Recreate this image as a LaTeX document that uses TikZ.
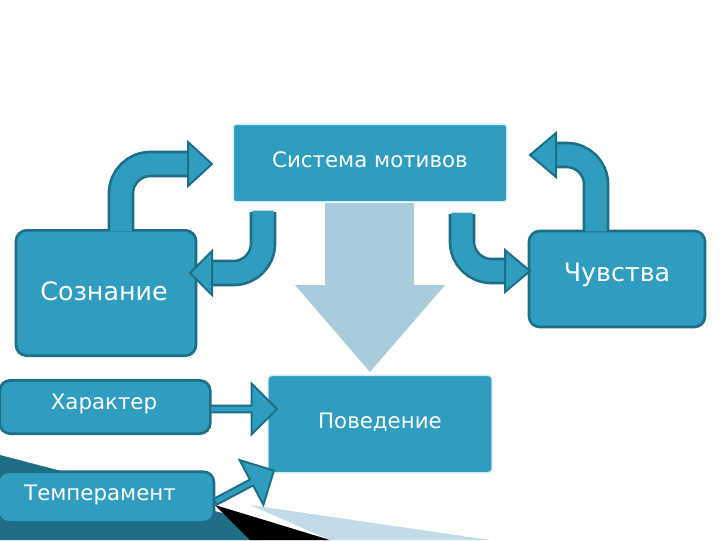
\documentclass[tikz,border=0pt]{standalone}
\usepackage{fontspec}
\setmainfont{DejaVu Sans}
\usetikzlibrary{shapes.arrows}
\definecolor{tl}{HTML}{2E9DBF}
\definecolor{dk}{HTML}{1D6F88}
\definecolor{lb}{HTML}{A8CCDC}
\begin{document}
\begin{tikzpicture}[x=0.75pt,y=-0.75pt,
  box/.style={draw=dk,line width=2pt,fill=tl,rounded corners=8pt,text=white,inner sep=0},
  pipe/.style={draw=dk,line width=20pt,rounded corners=22pt},
  pipein/.style={draw=tl,line width=16pt,rounded corners=22pt},
  head/.style={draw=dk,line width=1.5pt,fill=tl,line join=miter},
  blk/.style={shape=single arrow,draw=dk,line width=1.5pt,fill=tl,minimum height=50pt,single arrow head extend=5pt,inner sep=0,minimum width=38pt}]
\useasboundingbox (0,0) rectangle (720,540);
% decoration
\fill[tl!70!black] (0,455) -- (230,515) -- (260,540) -- (0,540) -- cycle;
\fill[black] (215,505) -- (330,540) -- (250,540) -- cycle;
\fill[lb!70] (250,505) -- (490,540) -- (330,540) -- cycle;
% boxes
\node[box,draw=white!80!tl,line width=1pt,rounded corners=2pt,minimum width=205pt,minimum height=58pt] (sys) at (370,163) {};
\node[text=white,font=\fontsize{16}{16}\selectfont] at (370,160) {Система мотивов};
\node[box,minimum width=135pt,minimum height=94pt] (soz) at (106,293) {};
\node[text=white,font=\fontsize{19}{19}\selectfont] at (104,291) {Сознание};
\node[box,minimum width=132pt,minimum height=72pt] (chu) at (617,279) {};
\node[text=white,font=\fontsize{19}{19}\selectfont] at (617,275) {Чувства};
\node[box,minimum width=158pt,minimum height=40pt] (har) at (105,407) {};
\node[text=white,font=\fontsize{16}{16}\selectfont] at (104,404) {Характер};
\node[box,minimum width=162pt,minimum height=38pt] (tem) at (106,497) {};
\node[text=white,font=\fontsize{16}{16}\selectfont] at (100,495) {Темперамент};
\node[box,draw=white!80!tl,line width=1pt,rounded corners=3pt,minimum width=168pt,minimum height=73pt] (pov) at (380,424) {};
\node[text=white,font=\fontsize{16}{16}\selectfont] at (380,422) {Поведение};
% big down arrow
\fill[lb] (325,203) -- (414,203) -- (414,285) -- (445,285) -- (370,372) -- (295,285) -- (325,285) -- cycle;
% bent arrows
\coordinate (a1s) at (121,230); \coordinate (a1e) at (190,164);
\draw[pipe] (a1s) |- (a1e); \draw[pipein] ([yshift=-1]a1s) |- ([xshift=2]a1e);
\draw[head] (188,142) -- (212,164) -- (188,186) -- cycle;
\coordinate (a2s) at (263,212); \coordinate (a2e) at (212,273);
\draw[pipe] (a2s) |- (a2e); \draw[pipein] ([yshift=1]a2s) |- ([xshift=-2]a2e);
\draw[head] (212,251) -- (190,273) -- (212,295) -- cycle;
\coordinate (a3s) at (462,214); \coordinate (a3e) at (506,271);
\draw[pipe] (a3s) |- (a3e); \draw[pipein] ([yshift=1]a3s) |- ([xshift=2]a3e);
\draw[head] (505,250) -- (530,271) -- (505,292) -- cycle;
\coordinate (a4s) at (596,230); \coordinate (a4e) at (555,155);
\draw[pipe] (a4s) |- (a4e); \draw[pipein] ([yshift=-1]a4s) |- ([xshift=-2]a4e);
\draw[head] (556,133) -- (530,155) -- (556,177) -- cycle;
% straight arrows
\node[blk] (h2p) at (242,409) {};
\node[blk,rotate=28] (t2p) at (243,487) {};
\end{tikzpicture}
\end{document}
